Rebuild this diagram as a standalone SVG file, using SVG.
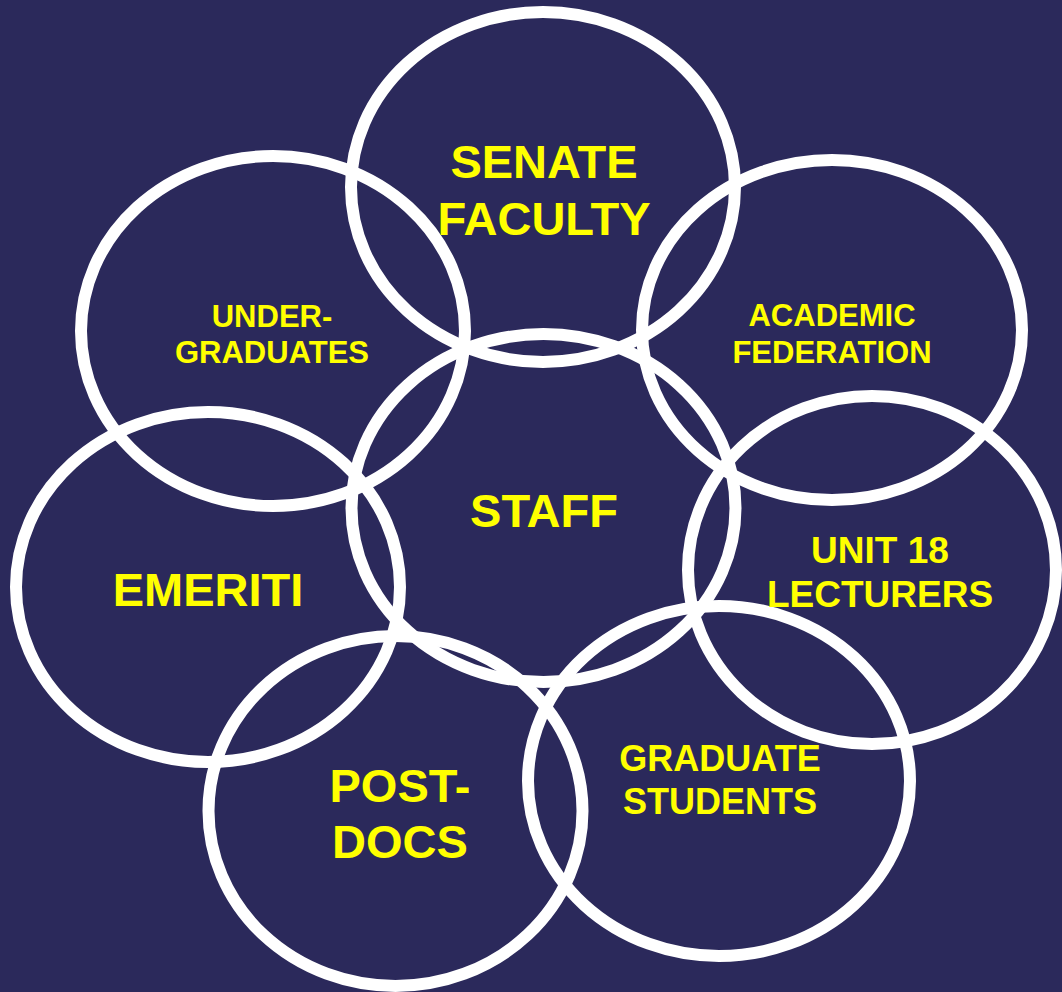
<svg xmlns="http://www.w3.org/2000/svg" width="1062" height="992" viewBox="0 0 1062 992">
<style>
.c{fill:none;stroke:#ffffff;stroke-width:12}
.t{fill:#ffff00;font-family:"Liberation Sans",Arial,sans-serif;font-weight:bold;text-anchor:middle}
</style>
<rect width="1062" height="992" fill="#2b295b"/>
<g id="senate"><ellipse class="c" cx="543" cy="187" rx="192" ry="175"/></g>
<g id="undergrad"><ellipse class="c" cx="273" cy="331" rx="192" ry="175"/></g>
<g id="academic"><ellipse class="c" cx="832" cy="330" rx="190" ry="170"/></g>
<g id="staff"><ellipse class="c" cx="543.5" cy="508" rx="192" ry="174"/></g>
<g id="emeriti"><ellipse class="c" cx="208" cy="587" rx="192" ry="175"/></g>
<g id="unit18"><ellipse class="c" cx="872" cy="570" rx="184" ry="174"/></g>
<g id="postdocs"><ellipse class="c" cx="395.5" cy="811" rx="187" ry="175"/></g>
<g id="grad"><ellipse class="c" cx="719" cy="781" rx="191" ry="175"/></g>
<g id="labels">
<text class="t" x="544" y="178" font-size="47">SENATE</text>
<text class="t" x="544" y="235" font-size="47">FACULTY</text>
<text class="t" x="272" y="327" font-size="31">UNDER-</text>
<text class="t" x="272" y="363" font-size="31">GRADUATES</text>
<text class="t" x="832" y="326" font-size="31">ACADEMIC</text>
<text class="t" x="832" y="363" font-size="31">FEDERATION</text>
<text class="t" x="544" y="527" font-size="47">STAFF</text>
<text class="t" x="208" y="606" font-size="47">EMERITI</text>
<text class="t" x="880" y="563" font-size="37">UNIT 18</text>
<text class="t" x="880" y="607" font-size="37">LECTURERS</text>
<text class="t" x="400" y="802" font-size="47">POST-</text>
<text class="t" x="400" y="858" font-size="47">DOCS</text>
<text class="t" x="720" y="771" font-size="36">GRADUATE</text>
<text class="t" x="720" y="814" font-size="36">STUDENTS</text>
</g>
</svg>
